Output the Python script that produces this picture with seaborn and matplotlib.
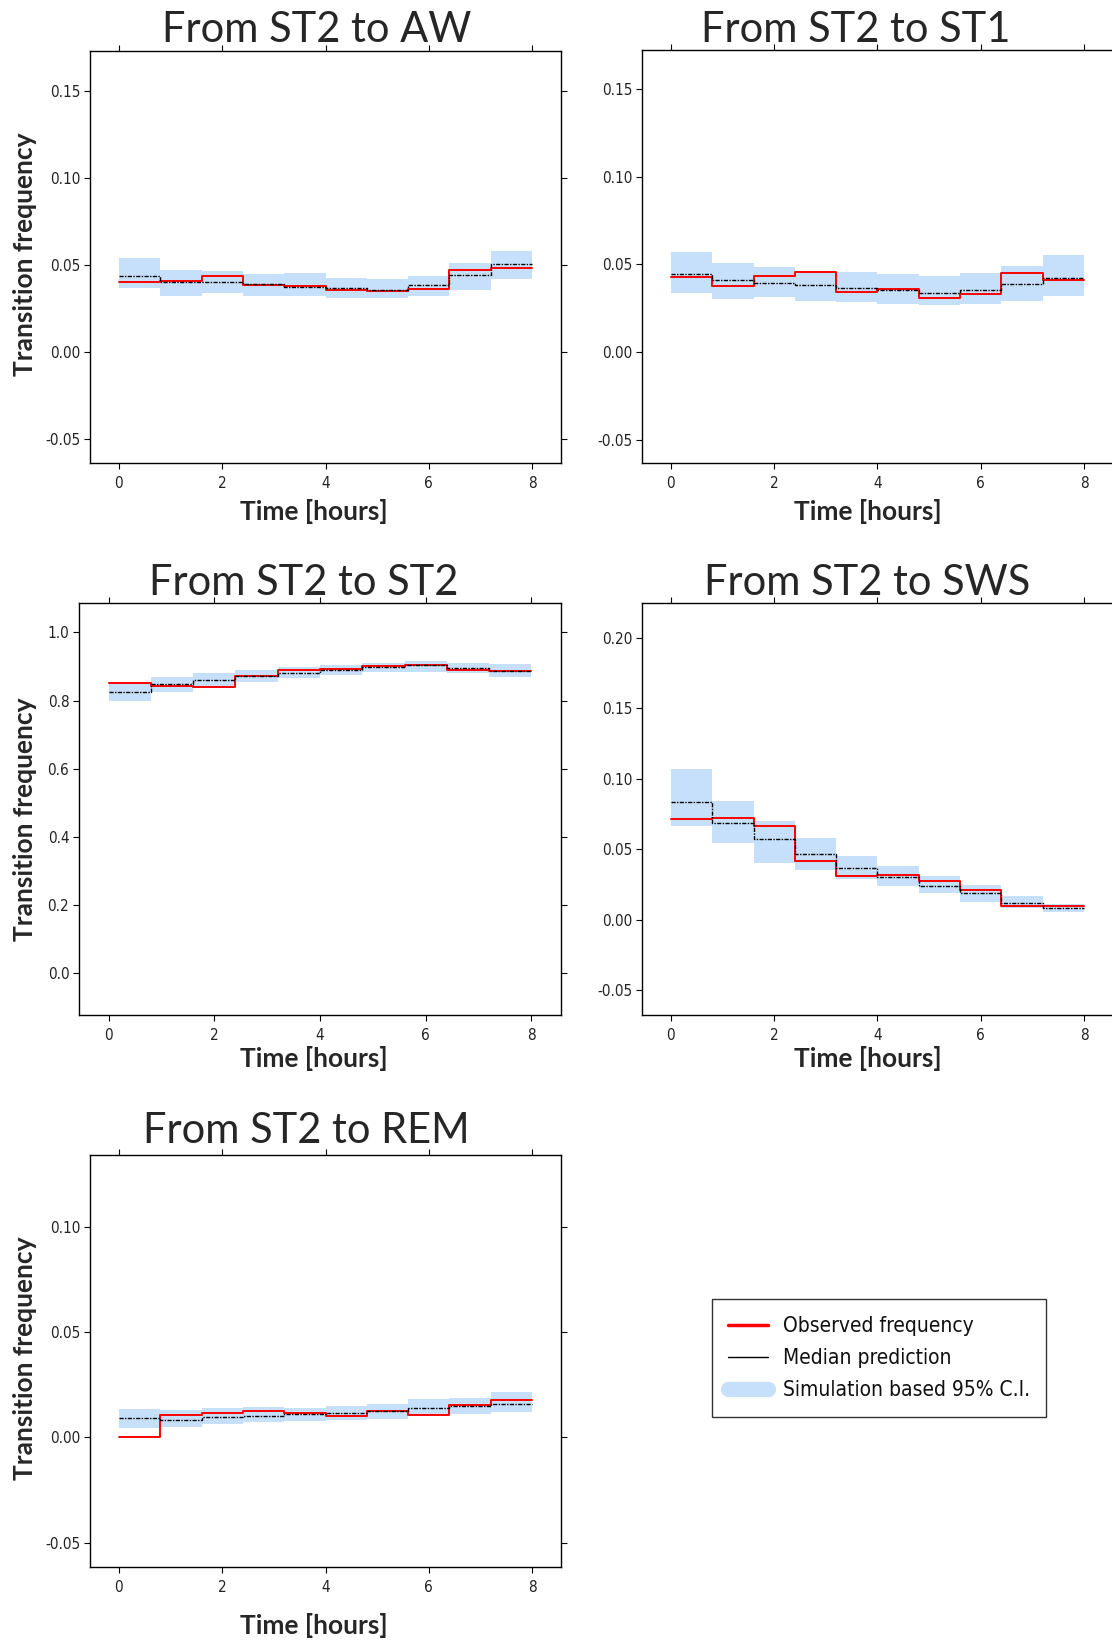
import numpy as np
import pandas as pd
import matplotlib
matplotlib.use("Agg")
import matplotlib.pyplot as plt
import seaborn as sns
from matplotlib.lines import Line2D
from matplotlib.ticker import FormatStrFormatter

# ---------------- data ----------------
bin_edges = [0.0, 0.8, 1.6, 2.4, 3.2, 4.0, 4.8, 5.6, 6.4, 7.2, 8.0]
x_ticks = [0, 2, 4, 6, 8]

titles = ["From ST2 to AW", "From ST2 to ST1", "From ST2 to ST2",
          "From ST2 to SWS", "From ST2 to REM"]

aw_observed = [0.0403, 0.0408, 0.0433, 0.0383, 0.0378, 0.0353, 0.0351, 0.0360, 0.0468, 0.0481]
aw_median = [0.0433, 0.0403, 0.0399, 0.0389, 0.0374, 0.0368, 0.0353, 0.0383, 0.0441, 0.0502]
aw_lower = [0.0364, 0.0322, 0.0337, 0.0318, 0.0318, 0.0309, 0.0312, 0.0322, 0.0358, 0.0418]
aw_upper = [0.0542, 0.0473, 0.0466, 0.0445, 0.0452, 0.0422, 0.0416, 0.0433, 0.0512, 0.0581]

st1_observed = [0.0426, 0.0378, 0.0435, 0.0454, 0.0343, 0.0362, 0.0311, 0.0332, 0.0449, 0.0412]
st1_median = [0.0445, 0.0410, 0.0393, 0.0383, 0.0366, 0.0355, 0.0337, 0.0353, 0.0387, 0.0420]
st1_lower = [0.0339, 0.0301, 0.0312, 0.0289, 0.0286, 0.0274, 0.0268, 0.0274, 0.0289, 0.0320]
st1_upper = [0.0569, 0.0510, 0.0483, 0.0456, 0.0456, 0.0443, 0.0433, 0.0450, 0.0489, 0.0552]

st2_observed = [0.851, 0.843, 0.840, 0.871, 0.889, 0.892, 0.900, 0.904, 0.890, 0.887]
st2_median = [0.824, 0.849, 0.859, 0.871, 0.882, 0.890, 0.899, 0.903, 0.896, 0.887]
st2_lower = [0.798, 0.825, 0.838, 0.854, 0.867, 0.874, 0.885, 0.885, 0.880, 0.869]
st2_upper = [0.853, 0.869, 0.882, 0.890, 0.899, 0.905, 0.911, 0.915, 0.911, 0.906]

sws_observed = [0.0717, 0.0724, 0.0662, 0.0417, 0.0310, 0.0319, 0.0276, 0.0207, 0.0093, 0.0095]
sws_median = [0.0836, 0.0686, 0.0571, 0.0464, 0.0369, 0.0300, 0.0238, 0.0190, 0.0119, 0.0081]
sws_lower = [0.0667, 0.0543, 0.0402, 0.0355, 0.0288, 0.0238, 0.0188, 0.0124, 0.0079, 0.0052]
sws_upper = [0.1069, 0.0838, 0.0698, 0.0576, 0.0450, 0.0379, 0.0312, 0.0245, 0.0164, 0.0110]

rem_observed = [0.0002, 0.0106, 0.0117, 0.0124, 0.0117, 0.0102, 0.0127, 0.0106, 0.0152, 0.0178]
rem_median = [0.0090, 0.0084, 0.0097, 0.0103, 0.0113, 0.0117, 0.0125, 0.0138, 0.0149, 0.0159]
rem_lower = [0.0046, 0.0049, 0.0062, 0.0073, 0.0079, 0.0081, 0.0089, 0.0102, 0.0111, 0.0119]
rem_upper = [0.0136, 0.0130, 0.0140, 0.0146, 0.0141, 0.0151, 0.0160, 0.0184, 0.0187, 0.0213]

y_ticks_aw = [-0.05, 0.00, 0.05, 0.10, 0.15]
y_ticks_st1 = [-0.05, 0.00, 0.05, 0.10, 0.15]
y_ticks_st2 = [0.0, 0.2, 0.4, 0.6, 0.8, 1.0]
y_ticks_sws = [-0.05, 0.00, 0.05, 0.10, 0.15, 0.20]
y_ticks_rem = [-0.05, 0.00, 0.05, 0.10]

legend_labels = ["Observed frequency", "Median prediction", "Simulation based 95% C.I."]

# ---------------- style ----------------
sns.set_style("ticks")
plt.rcParams["font.family"] = ["DejaVu Sans"]
plt.rcParams["font.stretch"] = "condensed"
plt.rcParams["axes.unicode_minus"] = False

RED = "#FF0000"
CI = "#C6E0FB"
W, H = 1112, 1642
fig = plt.figure(figsize=(W / 100, H / 100), dpi=100)


def ax_at(l, t, r, b):
    return fig.add_axes([l / W, 1 - b / H, (r - l) / W, (b - t) / H])


panels = [
    dict(obs=aw_observed, med=aw_median, lo=aw_lower, hi=aw_upper, yt=y_ticks_aw,
         ylim=(-0.064, 0.173), fmt="%.2f", box=(90, 51, 561, 463)),
    dict(obs=st1_observed, med=st1_median, lo=st1_lower, hi=st1_upper, yt=y_ticks_st1,
         ylim=(-0.063, 0.172), fmt="%.2f", box=(642, 50, 1113, 463)),
    dict(obs=st2_observed, med=st2_median, lo=st2_lower, hi=st2_upper, yt=y_ticks_st2,
         ylim=(-0.122, 1.086), fmt="%.1f", box=(79, 603, 561, 1015)),
    dict(obs=sws_observed, med=sws_median, lo=sws_lower, hi=sws_upper, yt=y_ticks_sws,
         ylim=(-0.0677, 0.2246), fmt="%.2f", box=(642, 603, 1113, 1015)),
    dict(obs=rem_observed, med=rem_median, lo=rem_lower, hi=rem_upper, yt=y_ticks_rem,
         ylim=(-0.0616, 0.1341), fmt="%.2f", box=(90, 1155, 561, 1567)),
]

for p in panels:
    ax = ax_at(*p["box"])
    df = pd.DataFrame({
        "time": bin_edges,
        "observed": list(p["obs"]) + [p["obs"][-1]],
        "median": list(p["med"]) + [p["med"][-1]],
        "lower": list(p["lo"]) + [p["lo"][-1]],
        "upper": list(p["hi"]) + [p["hi"][-1]],
    })
    ax.fill_between(df["time"], df["lower"], df["upper"], step="post",
                    color=CI, linewidth=0, zorder=1)
    sns.lineplot(data=df, x="time", y="observed", ax=ax, color=RED, lw=1.4,
                 drawstyle="steps-post", estimator=None, zorder=2)
    sns.lineplot(data=df, x="time", y="median", ax=ax, color="black", lw=1.0,
                 drawstyle="steps-post", estimator=None, dashes=False,
                 linestyle=(0, (3.0, 1.0, 1.0, 1.0)), zorder=3)
    ax.set_xlim(-0.56, 8.56)
    ax.set_ylim(*p["ylim"])
    ax.set_xticks(x_ticks)
    ax.set_yticks(p["yt"])
    ax.yaxis.set_major_formatter(FormatStrFormatter(p["fmt"]))
    ax.set_xlabel("")
    ax.set_ylabel("")
    for s in ax.spines.values():
        s.set_visible(True)
        s.set_linewidth(1.0)
        s.set_color("black")
    ax.tick_params(direction="out", length=4, width=0.8, colors="black",
                   labelsize=11, top=True, right=True,
                   labeltop=False, labelright=False)
    ax.tick_params(axis="y", labelcolor="#222222", pad=3)
    ax.tick_params(axis="x", labelcolor="#222222", pad=5)

TF = dict(family="Lato", fontstretch="normal")
# titles (centre x, baseline y in px)
title_pos = [(317, 42), (856, 42), (304, 595), (867, 595), (306, 1143)]
for t, (x, y) in zip(titles, title_pos):
    fig.text(x / W, 1 - y / H, t, fontsize=30, ha="center", va="baseline", **TF)

# x labels
xl_pos = [(314, 511), (868, 511), (314, 1058), (868, 1058), (314, 1625)]
for x, y in xl_pos:
    fig.text(x / W, 1 - y / H, "Time [hours]", fontsize=19, fontweight="bold",
             ha="center", va="center", **TF)

# y labels
yl_pos = [(25, 254), (25, 819), (25, 1358)]
for x, y in yl_pos:
    fig.text(x / W, 1 - y / H, "Transition frequency", fontsize=19, fontweight="bold",
             ha="center", va="center", rotation=90, **TF)

# legend
handles = [
    Line2D([], [], color=RED, lw=2.5),
    Line2D([], [], color="black", lw=1.0),
    Line2D([], [], color=CI, lw=11, solid_capstyle="round"),
]
leg = fig.legend(handles, legend_labels, loc="center",
                 bbox_to_anchor=(879 / W, 1 - 1358 / H),
                 frameon=True, fancybox=False, edgecolor="black",
                 prop=dict(family="DejaVu Sans", stretch="condensed", size=15),
                 handlelength=1.9, handletextpad=0.7,
                 borderpad=0.8, labelspacing=0.58, borderaxespad=0)
leg.get_frame().set_linewidth(1.0)
for txt in leg.get_texts():
    txt.set_color("#111111")

fig.savefig("out.png", dpi=100)
